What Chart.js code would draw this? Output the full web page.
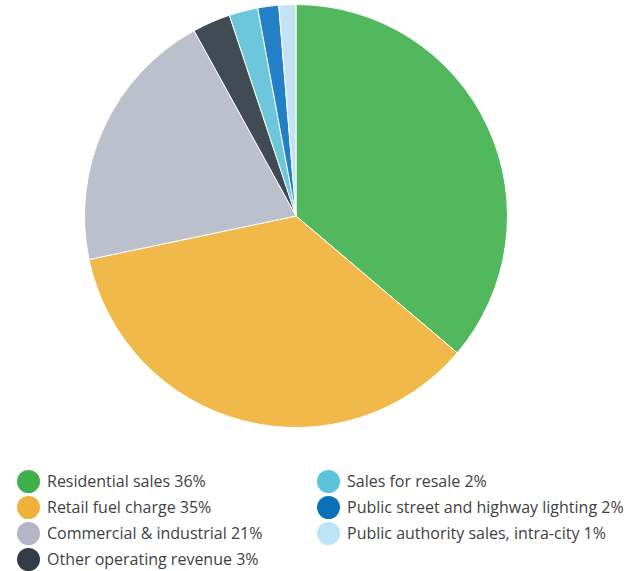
<!DOCTYPE html>
<html><head><meta charset="utf-8">
<script src="https://cdn.jsdelivr.net/npm/chart.js@4"></script>
<style>
html,body{margin:0;padding:0;background:#fff;width:643px;height:571px;overflow:hidden;position:relative;font-family:"Open Sans",sans-serif;}
#wrap{position:absolute;left:84px;top:4px;width:424px;height:424px;}
.item{position:absolute;height:24px;display:flex;align-items:center;font-size:16px;color:#3f3f3f;white-space:nowrap;}
.dot{width:23px;height:23px;border-radius:50%;margin-right:7px;flex:none;}
</style></head><body>
<div id="wrap"><canvas id="c"></canvas></div>
<div id="legend"></div>
<script>
const categories = ["Residential sales","Retail fuel charge","Commercial & industrial","Other operating revenue","Sales for resale","Public street and highway lighting","Public authority sales, intra-city"];
const values = [36.2, 35.5, 20.3, 2.9, 2.2, 1.6, 1.3];
const legendPercents = ["36%","35%","21%","3%","2%","2%","1%"];
const sliceColors = ["#52b85e","#f0b94a","#bcc0cc","#414b55","#6cc6dc","#2380c6","#c3e3f5"];
const legendColors = ["#3db049","#f0b13a","#b4b6c8","#333d47","#5bc4dc","#0a70b8","#bde3f7"];

new Chart(document.getElementById('c'), {
  type: 'pie',
  data: { labels: categories, datasets: [{ data: values, backgroundColor: sliceColors, borderColor: '#ffffff', borderWidth: 1 }] },
  options: { responsive: true, maintainAspectRatio: false, animation: false,
    layout: { padding: 0 },
    plugins: { legend: { display: false }, tooltip: { enabled: false } } }
});

const pos = [[17,469],[17,495],[17,521],[17,547],[317,469],[317,495],[317,521]];
const leg = document.getElementById('legend');
categories.forEach((c,i)=>{
  const d = document.createElement('div'); d.className='item';
  d.style.left = pos[i][0]+'px'; d.style.top = pos[i][1]+'px';
  d.innerHTML = '<span class="dot" style="background:'+legendColors[i]+'"></span><span></span>';
  d.lastChild.textContent = c + ' ' + legendPercents[i];
  leg.appendChild(d);
});
</script>
</body></html>
